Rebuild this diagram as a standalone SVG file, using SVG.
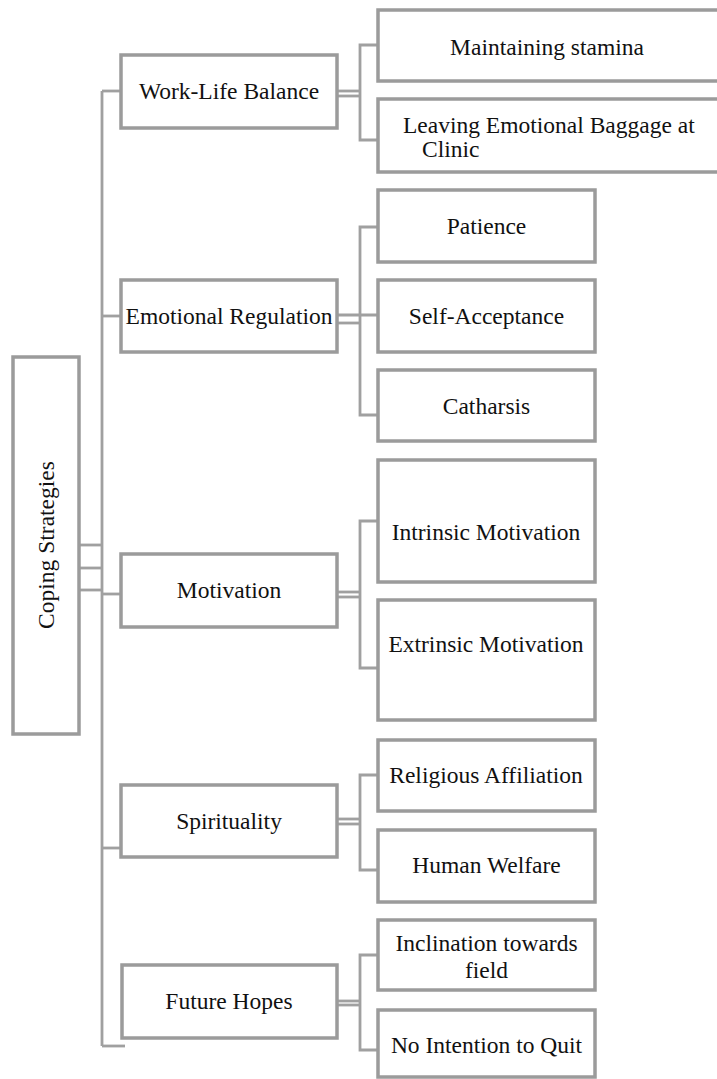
<svg xmlns="http://www.w3.org/2000/svg" width="717" height="1079" viewBox="0 0 717 1079">
<style>
.box{fill:#ffffff;stroke:#9b9b9b;stroke-width:3.5}
.con{fill:none;stroke:#a0a0a0;stroke-width:2.8}
text{font-family:"Liberation Serif","Times New Roman",serif;font-size:23.5px;fill:#111111;text-anchor:middle}
</style>
<rect width="717" height="1079" fill="#ffffff"/>
<g id="connectors">
<line class="con" x1="102" y1="91" x2="102" y2="1046"/>
<line class="con" x1="79" y1="545" x2="102" y2="545"/>
<line class="con" x1="79" y1="568" x2="102" y2="568"/>
<line class="con" x1="79" y1="590" x2="102" y2="590"/>
<line class="con" x1="102" y1="91" x2="121" y2="91"/>
<line class="con" x1="102" y1="316" x2="121" y2="316"/>
<line class="con" x1="102" y1="594" x2="121" y2="594"/>
<line class="con" x1="102" y1="848" x2="121" y2="848"/>
<line class="con" x1="102" y1="1046" x2="125" y2="1046"/>
<!-- WLB -->
<line class="con" x1="337" y1="91" x2="360" y2="91"/>
<line class="con" x1="337" y1="96" x2="360" y2="96"/>
<polyline class="con" points="378,45 360,45 360,140 378,140"/>
<!-- ER -->
<line class="con" x1="337" y1="315" x2="378" y2="315"/>
<line class="con" x1="337" y1="323" x2="360" y2="323"/>
<polyline class="con" points="378,227 360,227 360,415 378,415"/>
<!-- Motivation -->
<line class="con" x1="337" y1="592" x2="360" y2="592"/>
<line class="con" x1="337" y1="597" x2="360" y2="597"/>
<polyline class="con" points="378,521 360,521 360,668 378,668"/>
<!-- Spirituality -->
<line class="con" x1="337" y1="819" x2="360" y2="819"/>
<line class="con" x1="337" y1="824" x2="360" y2="824"/>
<polyline class="con" points="378,775 360,775 360,870 378,870"/>
<!-- Future Hopes -->
<line class="con" x1="337" y1="1001" x2="360" y2="1001"/>
<line class="con" x1="337" y1="1005" x2="360" y2="1005"/>
<polyline class="con" points="378,955 360,955 360,1050 378,1050"/>
</g>
<g id="root">
<rect class="box" x="13" y="357" width="66" height="377"/>
<text transform="translate(54,545) rotate(-90)">Coping Strategies</text>
</g>
<g id="wlb">
<rect class="box" x="121" y="55" width="216" height="73"/>
<text x="229" y="99">Work-Life Balance</text>
</g>
<g id="er">
<rect class="box" x="121" y="280" width="216" height="72"/>
<text x="229" y="324">Emotional Regulation</text>
</g>
<g id="mot">
<rect class="box" x="121" y="554" width="216" height="73"/>
<text x="229" y="598">Motivation</text>
</g>
<g id="spi">
<rect class="box" x="121" y="785" width="216" height="72"/>
<text x="229" y="829">Spirituality</text>
</g>
<g id="fh">
<rect class="box" x="122" y="965" width="215" height="73"/>
<text x="229" y="1009">Future Hopes</text>
</g>
<g id="ms">
<rect class="box" x="378" y="10" width="345" height="71"/>
<text x="547" y="55">Maintaining stamina</text>
</g>
<g id="leb">
<rect class="box" x="378" y="99" width="345" height="73"/>
<text x="403" y="133" style="text-anchor:start">Leaving Emotional Baggage at</text>
<text x="422" y="157" style="text-anchor:start">Clinic</text>
</g>
<g id="pat">
<rect class="box" x="378" y="190" width="217" height="72"/>
<text x="486.5" y="234">Patience</text>
</g>
<g id="sa">
<rect class="box" x="378" y="280" width="217" height="72"/>
<text x="486.5" y="324">Self-Acceptance</text>
</g>
<g id="cat">
<rect class="box" x="378" y="370" width="217" height="71"/>
<text x="486.5" y="414">Catharsis</text>
</g>
<g id="im">
<rect class="box" x="378" y="460" width="217" height="122"/>
<text x="486" y="540">Intrinsic Motivation</text>
</g>
<g id="em">
<rect class="box" x="378" y="600" width="217" height="120"/>
<text x="486" y="652">Extrinsic Motivation</text>
</g>
<g id="ra">
<rect class="box" x="378" y="740" width="217" height="71"/>
<text x="486" y="783">Religious Affiliation</text>
</g>
<g id="hw">
<rect class="box" x="378" y="830" width="217" height="72"/>
<text x="486.5" y="873">Human Welfare</text>
</g>
<g id="it">
<rect class="box" x="378" y="920" width="217" height="70"/>
<text x="486.5" y="951">Inclination towards</text>
<text x="486.5" y="978">field</text>
</g>
<g id="ni">
<rect class="box" x="378" y="1010" width="217" height="67"/>
<text x="486.5" y="1053">No Intention to Quit</text>
</g>
</svg>
